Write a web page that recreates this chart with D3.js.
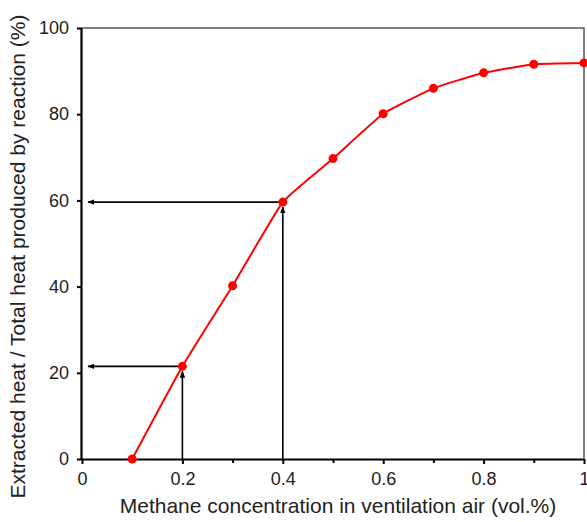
<!DOCTYPE html>
<html>
<head>
<meta charset="utf-8">
<script src="https://cdn.jsdelivr.net/npm/d3@7"></script>
<style>
  html, body { margin: 0; padding: 0; background: #fff; }
  svg { display: block; font-family: "Liberation Sans", Arial, sans-serif; }
</style>
</head>
<body>
<svg id="chart" width="587" height="522"></svg>
<script>
// Methane concentration (vol.%) and heat extraction ratio (%)
const concentration = [0.1, 0.2, 0.3, 0.4, 0.5, 0.6, 0.7, 0.8, 0.9, 1.0];
const heatRatio     = [0, 21.5, 40.2, 59.6, 69.7, 80.1, 86.0, 89.6, 91.6, 91.9];

// Guide arrows: read-off of ratio at two concentrations
const guideX = [0.2, 0.4];
const guideY = [21.5, 59.6];

const xTicks = [0, 0.2, 0.4, 0.6, 0.8, 1];
const xMinorTicks = [0.1, 0.3, 0.5, 0.7, 0.9];
const yTicks = [0, 20, 40, 60, 80, 100];

const xLabel = "Methane concentration in ventilation air (vol.%)";
const yLabel = "Extracted heat / Total heat produced by reaction (%)";

const svg = d3.select("#chart");
const plotLeft = 82, plotRight = 584, plotTop = 28, plotBottom = 459;

const x = d3.scaleLinear().domain([0, 1]).range([plotLeft, plotRight]);
const y = d3.scaleLinear().domain([0, 100]).range([plotBottom, plotTop]);

// Arrowhead marker
const defs = svg.append("defs");
defs.append("marker")
  .attr("id", "arrow")
  .attr("viewBox", "0 0 10 10")
  .attr("refX", 9).attr("refY", 5)
  .attr("markerWidth", 7).attr("markerHeight", 7)
  .attr("markerUnits", "userSpaceOnUse")
  .attr("orient", "auto")
  .append("path")
  .attr("d", "M0,1 L10,5 L0,9 Z")
  .attr("fill", "#000");

// Plot frame (top and right)
svg.append("path")
  .attr("d", `M${plotLeft},${plotTop} H${plotRight} V${plotBottom}`)
  .attr("fill", "none")
  .attr("stroke", "#555")
  .attr("stroke-width", 1.5);

// Guide arrows
guideX.forEach((gx, i) => {
  const gy = guideY[i];
  // vertical: from x-axis up to just below the point
  svg.append("line")
    .attr("x1", x(gx)).attr("x2", x(gx))
    .attr("y1", y(0)).attr("y2", y(gy) + 5)
    .attr("stroke", "#000").attr("stroke-width", 1.6)
    .attr("marker-end", "url(#arrow)");
  // horizontal: from the point left to the y-axis
  svg.append("line")
    .attr("x1", x(gx) - 4).attr("x2", x(0) + 6)
    .attr("y1", y(gy)).attr("y2", y(gy))
    .attr("stroke", "#000").attr("stroke-width", 1.6)
    .attr("marker-end", "url(#arrow)");
});

// Axes
const xAxisMinor = d3.axisBottom(x).tickValues(xMinorTicks).tickSize(4).tickFormat("");
svg.append("g").attr("transform", `translate(0,${plotBottom})`).call(xAxisMinor)
  .call(g => g.select(".domain").remove())
  .call(g => g.selectAll("line").attr("stroke", "#000").attr("stroke-width", 2));

const xAxis = d3.axisBottom(x).tickValues(xTicks).tickSize(5).tickPadding(8)
  .tickFormat(d => d === 0 || d === 1 ? d3.format("d")(d) : d3.format(".1f")(d));
svg.append("g").attr("transform", `translate(0,${plotBottom})`).call(xAxis)
  .call(g => g.select(".domain").attr("stroke", "#000").attr("stroke-width", 2.2).attr("d", `M${plotLeft},0.5H${plotRight}`))
  .call(g => g.selectAll(".tick line").attr("stroke", "#000").attr("stroke-width", 2))
  .call(g => g.selectAll("text").attr("font-size", 18).attr("fill", "#222").attr("font-family", null));

const yAxis = d3.axisLeft(y).tickValues(yTicks).tickSize(5).tickPadding(8);
svg.append("g").attr("transform", `translate(${plotLeft},0)`).call(yAxis)
  .call(g => g.select(".domain").attr("stroke", "#000").attr("stroke-width", 2.2).attr("d", `M-0.5,${plotTop}V${plotBottom}`))
  .call(g => g.selectAll(".tick line").attr("stroke", "#000").attr("stroke-width", 2))
  .call(g => g.selectAll("text").attr("font-size", 18).attr("fill", "#222").attr("font-family", null));

// Data curve (lightly smoothed)
const pts = concentration.map((c, i) => [c, heatRatio[i]]);
const line = d3.line().x(d => x(d[0])).y(d => y(d[1])).curve(d3.curveCardinal.tension(0.6));
svg.append("path")
  .datum(pts)
  .attr("d", line)
  .attr("fill", "none")
  .attr("stroke", "#ff0000")
  .attr("stroke-width", 2);

svg.append("g").selectAll("circle")
  .data(pts)
  .join("circle")
  .attr("cx", d => x(d[0]))
  .attr("cy", d => y(d[1]))
  .attr("r", 4.5)
  .attr("fill", "#ff0000");

// Axis titles
svg.append("text")
  .attr("x", 338)
  .attr("y", 513)
  .attr("text-anchor", "middle")
  .attr("font-size", 21)
  .attr("fill", "#222")
  .text(xLabel);

svg.append("text")
  .attr("transform", `translate(25,${(10 + 503) / 2}) rotate(-90)`)
  .attr("text-anchor", "middle")
  .attr("font-size", 21)
  .attr("fill", "#222")
  .text(yLabel);
</script>
</body>
</html>
